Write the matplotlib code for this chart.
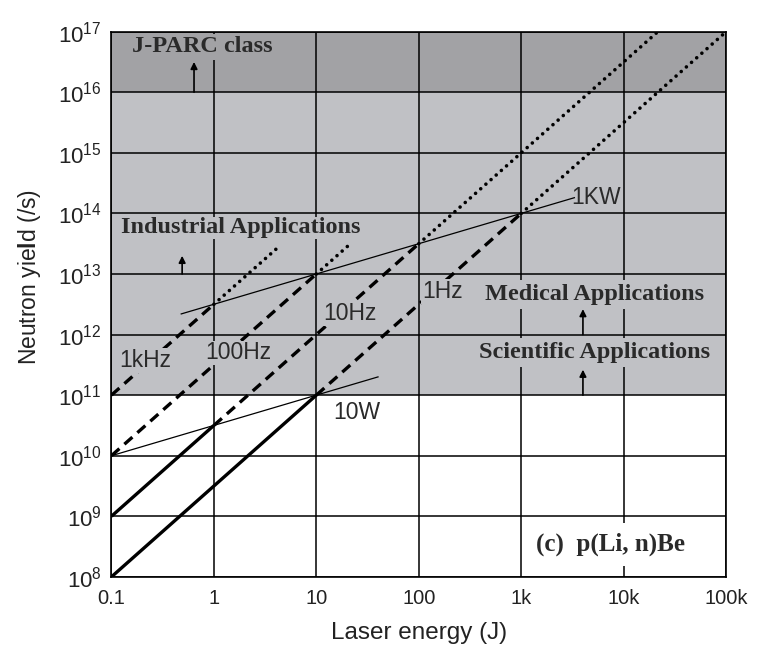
import numpy as np
import matplotlib
matplotlib.use("Agg")
import matplotlib.pyplot as plt

plt.rcParams['font.family'] = ['Liberation Sans', 'DejaVu Sans']
plt.rcParams['mathtext.fontset'] = 'custom'
plt.rcParams['mathtext.rm'] = 'Liberation Sans'
plt.rcParams['mathtext.bf'] = 'Liberation Sans:bold'

# repetition-rate lines: yield at 0.1 J, and break points (solid -> dashed -> dotted -> end)
rate_names = ["1Hz", "10Hz", "100Hz", "1kHz"]
rate_y0 = [1e8, 1e9, 1e10, 1e11]
rate_solid_end = [10, 1, 0.1, 0.1]
rate_dash_end = [1000, 100, 10, 1]
rate_dot_end = [1e5, 2.2e4, 22, 4.5]
slope = 1.5

# constant power lines
power_names = ["10W", "1KW"]
power_ref = [(10, 1e11), (1000, 1e14)]
power_range = [(0.1, 40), (0.48, 3300)]

# application levels
light = "#c0c1c5"
dark = "#a2a2a5"
bands = [(1e11, 1e16, light), (1e16, 1e17, dark)]

xticks = [0.1, 1, 10, 100, 1000, 1e4, 1e5]
xticklabels = ["0.1", "1", "10", "100", "1k", "10k", "100k"]

fig = plt.figure(figsize=(7.58, 6.46), dpi=100)
ax = fig.add_axes([0.147, 0.107, 0.811, 0.844])
ax.set_xscale("log")
ax.set_yscale("log")
ax.set_xlim(0.1, 1e5)
ax.set_ylim(1e8, 1e17)

for lo, hi, c in bands:
    ax.axhspan(lo, hi, color=c, zorder=0, lw=0)

ax.grid(True, which="major", color="black", lw=1.1, zorder=1)
ax.set_axisbelow(True)

def yield_at(e, y0):
    return y0 * (np.asarray(e) / 0.1) ** slope

for name, y0, s_end, d_end, t_end in zip(rate_names, rate_y0, rate_solid_end, rate_dash_end, rate_dot_end):
    if s_end > 0.1:
        e = np.array([0.1, s_end])
        ax.plot(e, yield_at(e, y0), color="black", lw=2.4, zorder=3, solid_capstyle="butt")
    e = np.array([s_end, d_end])
    ax.plot(e, yield_at(e, y0), color="black", lw=2.4, zorder=3, dashes=(3.2, 2.0))
    e = np.array([d_end, t_end])
    ax.plot(e, yield_at(e, y0), color="black", lw=2.6, zorder=3, dashes=(0.01, 1.9),
            dash_capstyle="round")

for (eref, yref), (e0, e1) in zip(power_ref, power_range):
    e = np.array([e0, e1])
    ax.plot(e, yref * (e / eref) ** 0.5, color="black", lw=0.9, zorder=3)

# line labels (background hides the lines behind them)
sans = dict(fontsize=16.5, color="#2a2a2a", zorder=5, va="center", ha="left")
ax.text(0.12, 10**11.57, "1kHz", bbox=dict(fc=light, ec="none", pad=0.5), **sans)
ax.text(0.82, 10**11.70, "100Hz", bbox=dict(fc=light, ec="none", pad=0.5), **sans)
ax.text(11.7, 10**12.35, "10Hz", bbox=dict(fc=light, ec="none", pad=0.5), **sans)
ax.text(107, 10**12.71, "1Hz", bbox=dict(fc=light, ec="none", pad=0.5), **sans)
ax.text(3100, 10**14.27, "1KW", **sans)
ax.text(14.5, 10**10.72, "10W", bbox=dict(fc="white", ec="none", pad=0.5), **sans)

serif = dict(fontsize=17.5, fontweight="bold", color="#2a2a2a", zorder=5,
             family=["Liberation Serif", "DejaVu Serif"], va="center", ha="left")
ax.text(0.16, 10**16.75, "J-PARC class", bbox=dict(fc=dark, ec="none", pad=2), **serif)
ax.text(0.125, 10**13.76, "Industrial Applications", bbox=dict(fc=light, ec="none", pad=0.5), **serif)
ax.text(440, 10**12.66, "Medical Applications", bbox=dict(fc=light, ec="none", pad=3), **serif)
ax.text(390, 10**11.70, "Scientific Applications", bbox=dict(fc=light, ec="none", pad=3), **serif)
ax.text(1400, 10**8.53, "(c)  p(Li, n)Be", fontsize=18,
        bbox=dict(fc="white", ec="none", pad=7), **{k: v for k, v in serif.items() if k != "fontsize"})

arrows = [(0.64, 1e16, 10**16.5), (0.49, 1e13, 10**13.3),
          (4000, 1e12, 10**12.42), (4000, 1e11, 10**11.42)]
for x, y0, y1 in arrows:
    ax.annotate("", xy=(x, y1), xytext=(x, y0), zorder=6,
                arrowprops=dict(arrowstyle="-|>", color="black", lw=1.2,
                                mutation_scale=10, shrinkA=0, shrinkB=0))

ax.set_xticks(xticks)
ax.set_xticklabels(xticklabels)
ax.set_yticks([10.0**k for k in range(8, 18)])
ax.minorticks_off()
ax.tick_params(length=0, colors="#222222")
ax.tick_params(axis="x", pad=9, labelsize=14.5)
ax.tick_params(axis="y", pad=7, labelsize=16)
for s in ax.spines.values():
    s.set_linewidth(1.2)
    s.set_zorder(7)

ax.set_xlabel("Laser energy (J)", fontsize=17.5, va="top", color="#222222")
ax.xaxis.set_label_coords(0.5, -0.083)
ax.set_ylabel(r"Neutron yie$\mathbf{l}$d (/s)", fontsize=16.5, color="#222222")
ax.yaxis.set_label_coords(-0.112, 0.55)

fig.savefig("out.png", dpi=100)
